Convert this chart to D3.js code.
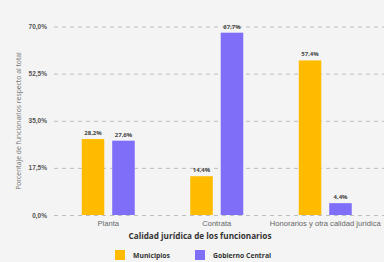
<!DOCTYPE html>
<html><head><meta charset="utf-8">
<script src="https://cdn.jsdelivr.net/npm/d3@7"></script>
<style>body{margin:0;background:#f4f4f4;}svg{display:block;font-family:"Open Sans",sans-serif;}</style>
</head><body><svg id="c" width="384" height="262"></svg>
<script>
const categories = ["Planta", "Contrata", "Honorarios y otra calidad jurídica"];
const seriesNames = ["Municipios", "Gobierno Central"];
const municipios = [28.2, 14.4, 57.4];
const gobiernoCentral = [27.6, 67.7, 4.4];
const yTicks = [0, 17.5, 35, 52.5, 70];
const colors = ["#FFBB00", "#7F6EF7"];

const svg = d3.select("#c");
svg.append("rect").attr("width",384).attr("height",262).attr("fill","#f4f4f4");
const x = d3.scaleBand().domain(categories).range([54, 379.5]).paddingInner(0).paddingOuter(0);
const xs = d3.scaleBand().domain(seriesNames).range([0, 53]).paddingInner(0.26);
const y = d3.scaleLinear().domain([0, 70]).range([215, 26.5]);
const fmt = v => v.toFixed(1).replace(".", ",") + "%";

// grid
const gy = svg.append("g").attr("transform","translate(54,0)")
  .call(d3.axisLeft(y).tickValues(yTicks).tickSize(-330).tickFormat(fmt));
gy.select(".domain").remove();
gy.selectAll(".tick line").attr("stroke","#bdbdbd").attr("stroke-dasharray","4,4").attr("x1",0);
gy.selectAll(".tick text").attr("x",-7).attr("fill","#555").attr("font-size",6.5).attr("font-weight",700);

const data = categories.map((c,i)=>({cat:c, vals:[municipios[i], gobiernoCentral[i]]}));
const grp = svg.append("g").selectAll("g").data(data).join("g")
  .attr("transform", d => `translate(${x(d.cat) + x.bandwidth()/2 - 26.5},0)`);
grp.selectAll("rect").data(d => d.vals.map((v,j)=>({v, s:seriesNames[j], j})))
  .join("rect")
  .attr("x", d => xs(d.s)).attr("width", xs.bandwidth())
  .attr("y", d => y(d.v)).attr("height", d => y(0) - y(d.v))
  .attr("fill", d => colors[d.j]);
grp.selectAll("text").data(d => d.vals.map((v,j)=>({v, s:seriesNames[j]})))
  .join("text")
  .attr("x", d => xs(d.s) + xs.bandwidth()/2).attr("y", d => y(d.v) - 4)
  .attr("text-anchor","middle").attr("font-size",6).attr("font-weight",700).attr("fill","#444")
  .text(d => fmt(d.v));

// x axis labels
const gx = svg.append("g").attr("transform","translate(0,215)")
  .call(d3.axisBottom(x).tickSize(0).tickPadding(6));
gx.select(".domain").remove();
gx.selectAll(".tick text").attr("font-size",7.6).attr("fill","#666");

// titles
svg.append("text").attr("x",200).attr("y",239).attr("text-anchor","middle")
  .attr("font-size",8.2).attr("font-weight",700).attr("fill","#333")
  .text("Calidad jurídica de los funcionarios");
svg.append("text").attr("transform","translate(21,121) rotate(-90)").attr("text-anchor","middle")
  .attr("font-size",6.8).attr("fill","#777").text("Porcentaje de funcionarios respecto al total");

// legend
const legX = [115, 195];
const leg = svg.append("g").selectAll("g").data(seriesNames).join("g")
  .attr("transform",(d,i)=>`translate(${legX[i]},250)`);
leg.append("rect").attr("width",10).attr("height",10).attr("fill",(d,i)=>colors[i]);
leg.append("text").attr("x",18).attr("y",8).attr("font-size",6.8).attr("font-weight",700).attr("fill","#333").text(d=>d);
</script></body></html>
